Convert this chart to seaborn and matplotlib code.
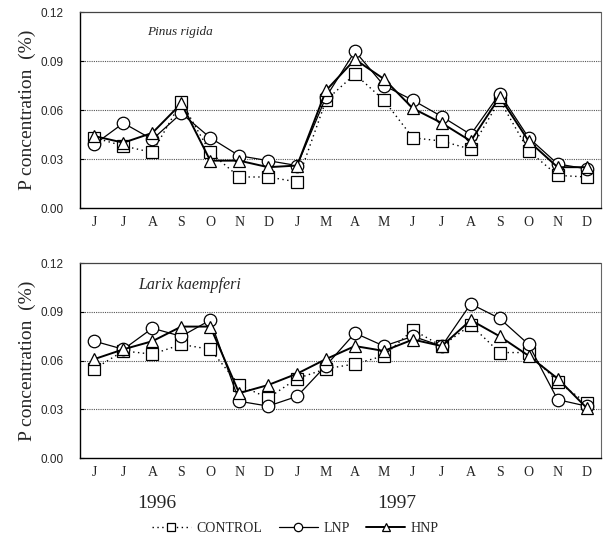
import numpy as np
import pandas as pd
import seaborn as sns
import matplotlib.pyplot as plt
from matplotlib.lines import Line2D

# Monthly P concentration (%), Jun 1996 - Dec 1997
months = ['J', 'J', 'A', 'S', 'O', 'N', 'D', 'J', 'M', 'A', 'M', 'J', 'J', 'A', 'S', 'O', 'N', 'D']

pinus_control = [0.043, 0.038, 0.034, 0.065, 0.034, 0.019, 0.019, 0.016, 0.066, 0.082,
                 0.066, 0.043, 0.041, 0.036, 0.066, 0.035, 0.020, 0.019]
pinus_lnp = [0.039, 0.052, 0.042, 0.058, 0.043, 0.032, 0.029, 0.026, 0.068, 0.096,
             0.075, 0.066, 0.056, 0.045, 0.070, 0.043, 0.027, 0.024]
pinus_hnp = [0.044, 0.040, 0.046, 0.064, 0.029, 0.029, 0.025, 0.026, 0.072, 0.091,
             0.079, 0.061, 0.052, 0.041, 0.068, 0.041, 0.025, 0.025]

larix_control = [0.055, 0.066, 0.064, 0.070, 0.067, 0.045, 0.037, 0.049, 0.055, 0.058,
                 0.063, 0.079, 0.069, 0.082, 0.065, 0.065, 0.047, 0.034]
larix_lnp = [0.072, 0.067, 0.080, 0.075, 0.085, 0.035, 0.032, 0.038, 0.057, 0.077,
             0.069, 0.075, 0.069, 0.095, 0.086, 0.070, 0.036, 0.032]
larix_hnp = [0.061, 0.067, 0.072, 0.081, 0.081, 0.040, 0.045, 0.052, 0.061, 0.069,
             0.066, 0.073, 0.069, 0.085, 0.075, 0.063, 0.049, 0.031]

treatments = ['CONTROL', 'LNP', 'HNP']
panels = {
    'Pinus rigida': [pinus_control, pinus_lnp, pinus_hnp],
    'Larix kaempferi': [larix_control, larix_lnp, larix_hnp],
}
# species label placement (axes fraction) and size
label_pos = {'Pinus rigida': (0.128, 0.90, 9.5), 'Larix kaempferi': (0.112, 0.887, 11.5)}

sns.set_theme(style='white')
plt.rcParams['font.family'] = ['Liberation Serif', 'DejaVu Serif']

styles = {
    'CONTROL': dict(marker='s', linestyle=(0, (1, 2.5)), linewidth=1.0),
    'LNP': dict(marker='o', linestyle='-', linewidth=0.9),
    'HNP': dict(marker='^', linestyle='-', linewidth=1.4),
}

fig = plt.figure(figsize=(6.03, 5.44), dpi=100)
ax_top = fig.add_axes([0.1327, 0.6176, 0.864, 0.3603])
ax_bot = fig.add_axes([0.1327, 0.158, 0.864, 0.358])

x = np.arange(len(months))
for ax, (name, series) in zip([ax_top, ax_bot], panels.items()):
    for trt, vals in zip(treatments, series):
        sns.lineplot(x=x, y=vals, ax=ax, color='black', markersize=9,
                     markerfacecolor='white', markeredgecolor='black',
                     markeredgewidth=0.9, **styles[trt])
    ax.set_xlim(-0.5, 17.5)
    ax.set_ylim(0, 0.12)
    ax.set_yticks([0, 0.03, 0.06, 0.09, 0.12])
    ax.set_yticklabels(['0.00', '0.03', '0.06', '0.09', '0.12'],
                       family=['Liberation Sans Narrow', 'Liberation Sans'], fontsize=8.5)
    ax.set_xticks(x)
    ax.set_xticklabels(months, fontsize=10)
    ax.set_xticks(np.arange(0.5, 17, 1), minor=True)
    ax.tick_params(axis='x', which='major', length=0, pad=6)
    ax.tick_params(axis='x', which='minor', direction='in', length=3, width=0.8, color='black')
    ax.tick_params(axis='y', which='major', direction='in', length=3, width=0.8,
                   color='black', left=True, pad=12)
    for y in [0.03, 0.06, 0.09]:
        ax.axhline(y, color='#555555', linestyle=(0, (1, 1)), linewidth=0.8, zorder=0)
    ax.spines['left'].set_color('black')
    ax.spines['bottom'].set_color('black')
    ax.spines['left'].set_linewidth(1.0)
    ax.spines['bottom'].set_linewidth(1.0)
    ax.spines['top'].set_color('#444444')
    ax.spines['top'].set_linestyle((0, (2, 1)))
    ax.spines['top'].set_linewidth(0.9)
    ax.spines['right'].set_color('#666666')
    ax.spines['right'].set_linewidth(0.8)
    ax.set_ylabel('P concentration  (%)', fontsize=14, labelpad=3)
    lx, ly, lfs = label_pos[name]
    ax.text(lx, ly, name, transform=ax.transAxes, style='italic', fontsize=lfs, va='center')

fig.text(0.26, 0.075, '1996', fontsize=14, ha='center', va='center')
fig.text(0.658, 0.075, '1997', fontsize=14, ha='center', va='center')

handles = [Line2D([], [], color='black', markersize=6, markerfacecolor='white',
                  markeredgecolor='black', markeredgewidth=0.9, **styles[t])
           for t in treatments]
fig.legend(handles, treatments, loc='center', bbox_to_anchor=(0.49, 0.028), ncol=3,
           frameon=False, fontsize=10, handlelength=2.8, columnspacing=1.2, handletextpad=0.4)

plt.savefig('out.png', dpi=100)
